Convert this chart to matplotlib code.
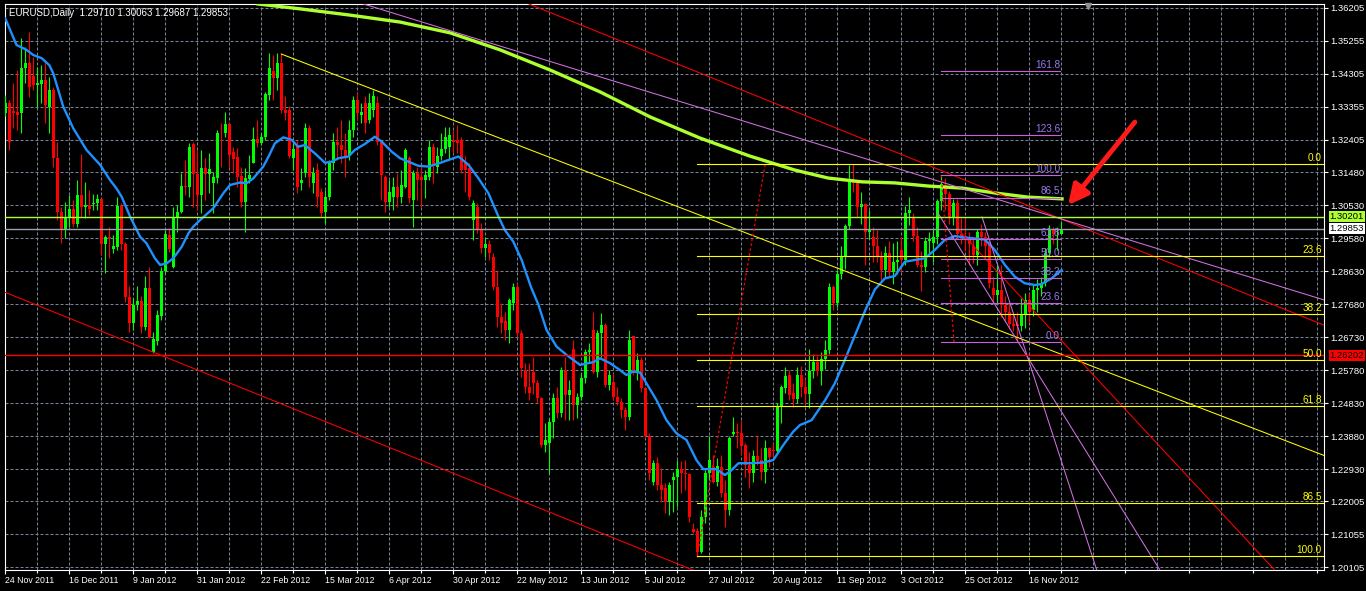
import numpy as np
import matplotlib
matplotlib.use("Agg")
import matplotlib.pyplot as plt
import matplotlib.font_manager as fm
from matplotlib.transforms import blended_transform_factory as blend

_names = {f.name for f in fm.fontManager.ttflist}
if "Liberation Sans Narrow" in _names:
    plt.rcParams["font.family"] = ["Liberation Sans Narrow", "DejaVu Sans"]
    FS_PRICE, FS_DATE, FS_FIB, FS_TITLE = 8, 7.2, 8, 8
else:
    plt.rcParams["font.family"] = ["Liberation Sans", "DejaVu Sans"]
    FS_PRICE, FS_DATE, FS_FIB, FS_TITLE = 6.8, 6.3, 7.2, 7

# ---- daily EURUSD candles (bar 0 = 24 Nov 2011) ----
OPEN = [1.3317, 1.3346, 1.3325, 1.3322, 1.3317, 1.3447, 1.3463, 1.3425, 1.3399, 1.3402,
        1.3413, 1.3336, 1.3384, 1.3188, 1.3034, 1.2981, 1.3015, 1.3041, 1.2999, 1.3082,
        1.3047, 1.3051, 1.3055, 1.3058, 1.3070, 1.2940, 1.2962, 1.2928, 1.2933, 1.3050,
        1.2941, 1.2788, 1.2715, 1.2765, 1.2778, 1.2703, 1.2814, 1.2631, 1.2663, 1.2734,
        1.2862, 1.2967, 1.2874, 1.3015, 1.3034, 1.3109, 1.3106, 1.3228, 1.3143, 1.3082,
        1.3160, 1.3143, 1.3116, 1.3130, 1.3262, 1.3260, 1.3287, 1.3207, 1.3191, 1.3137,
        1.3063, 1.3127, 1.3175, 1.3243, 1.3231, 1.3248, 1.3370, 1.3440, 1.3420, 1.3461,
        1.3327, 1.3327, 1.3188, 1.3226, 1.3116, 1.3145, 1.3274, 1.3116, 1.3154, 1.3092,
        1.3034, 1.3077, 1.3173, 1.3236, 1.3226, 1.3212, 1.3193, 1.3269, 1.3356, 1.3312,
        1.3346, 1.3298, 1.3327, 1.3346, 1.3236, 1.3135, 1.3063, 1.3077, 1.3106, 1.3077,
        1.3106, 1.3188, 1.3068, 1.3145, 1.3135, 1.3125, 1.3135, 1.3221, 1.3164, 1.3193,
        1.3216, 1.3221, 1.3241, 1.3241, 1.3241, 1.3173, 1.3159, 1.3010, 1.3049, 1.2982,
        1.2930, 1.2940, 1.2905, 1.2818, 1.2732, 1.2718, 1.2694, 1.2770, 1.2818, 1.2684,
        1.2578, 1.2530, 1.2574, 1.2540, 1.2497, 1.2363, 1.2367, 1.2430, 1.2497, 1.2454,
        1.2578, 1.2506, 1.2640, 1.2478, 1.2502, 1.2555, 1.2631, 1.2694, 1.2574, 1.2684,
        1.2708, 1.2535, 1.2545, 1.2502, 1.2487, 1.2463, 1.2444, 1.2675, 1.2569, 1.2607,
        1.2526, 1.2387, 1.2255, 1.2310, 1.2248, 1.2238, 1.2199, 1.2262, 1.2269, 1.2292,
        1.2281, 1.2279, 1.2120, 1.2116, 1.2055, 1.2156, 1.2281, 1.2298, 1.2257, 1.2300,
        1.2223, 1.2175, 1.2394, 1.2401, 1.2396, 1.2363, 1.2305, 1.2283, 1.2331, 1.2319,
        1.2286, 1.2353, 1.2348, 1.2346, 1.2473, 1.2526, 1.2564, 1.2511, 1.2495, 1.2564,
        1.2530, 1.2510, 1.2575, 1.2600, 1.2575, 1.2610, 1.2636, 1.2818, 1.2772, 1.2855,
        1.2905, 1.2994, 1.3125, 1.3116, 1.3049, 1.3055, 1.2975, 1.2960, 1.2935, 1.2905,
        1.2865, 1.2915, 1.2860, 1.2890, 1.2925, 1.2895, 1.3030, 1.3020, 1.2965, 1.2880,
        1.2875, 1.2950, 1.2945, 1.2960, 1.3065, 1.3110, 1.3085, 1.3015, 1.3060, 1.2970,
        1.2965, 1.2955, 1.2935, 1.2910, 1.2975, 1.2960, 1.2940, 1.2815, 1.2795, 1.2810,
        1.2765, 1.2745, 1.2710, 1.2710, 1.2705, 1.2740, 1.2780, 1.2750, 1.2810, 1.2815,
        1.2830, 1.2915, 1.2980, 1.2970, 1.29710]
HIGH = [1.3370, 1.3356, 1.3404, 1.3442, 1.3533, 1.3509, 1.3550, 1.3480, 1.3452, 1.3456,
        1.3466, 1.3423, 1.3394, 1.3236, 1.3048, 1.3063, 1.3082, 1.3068, 1.3125, 1.3199,
        1.3119, 1.3097, 1.3085, 1.3085, 1.3073, 1.2967, 1.2991, 1.2967, 1.3077, 1.3058,
        1.2948, 1.2819, 1.2785, 1.2819, 1.2790, 1.2848, 1.2876, 1.2689, 1.2751, 1.2876,
        1.2981, 1.2986, 1.3048, 1.3053, 1.3145, 1.3183, 1.3233, 1.3236, 1.3212, 1.3212,
        1.3188, 1.3202, 1.3149, 1.3269, 1.3289, 1.3322, 1.3293, 1.3221, 1.3217, 1.3164,
        1.3159, 1.3197, 1.3279, 1.3298, 1.3260, 1.3380, 1.3490, 1.3485, 1.3490, 1.3490,
        1.3366, 1.3337, 1.3231, 1.3241, 1.3160, 1.3289, 1.3284, 1.3164, 1.3173, 1.3101,
        1.3097, 1.3183, 1.3260, 1.3279, 1.3298, 1.3260, 1.3298, 1.3366, 1.3375, 1.3346,
        1.3366, 1.3375, 1.3385, 1.3366, 1.3241, 1.3140, 1.3125, 1.3135, 1.3145, 1.3154,
        1.3217, 1.3193, 1.3154, 1.3164, 1.3164, 1.3154, 1.3241, 1.3231, 1.3221, 1.3260,
        1.3279, 1.3279, 1.3269, 1.3284, 1.3250, 1.3193, 1.3173, 1.3068, 1.3058, 1.3001,
        1.2962, 1.2953, 1.2914, 1.2866, 1.2770, 1.2746, 1.2785, 1.2828, 1.2828, 1.2694,
        1.2598, 1.2598, 1.2617, 1.2550, 1.2502, 1.2425, 1.2440, 1.2511, 1.2530, 1.2588,
        1.2617, 1.2550, 1.2665, 1.2511, 1.2569, 1.2640, 1.2655, 1.2746, 1.2694, 1.2742,
        1.2713, 1.2578, 1.2569, 1.2530, 1.2497, 1.2473, 1.2694, 1.2679, 1.2626, 1.2617,
        1.2530, 1.2396, 1.2319, 1.2329, 1.2295, 1.2252, 1.2257, 1.2286, 1.2319, 1.2315,
        1.2319, 1.2281, 1.2137, 1.2123, 1.2175, 1.2291, 1.2387, 1.2334, 1.2325, 1.2334,
        1.2262, 1.2387, 1.2444, 1.2425, 1.2434, 1.2367, 1.2341, 1.2348, 1.2387, 1.2353,
        1.2377, 1.2358, 1.2367, 1.2482, 1.2535, 1.2586, 1.2578, 1.2540, 1.2588, 1.2590,
        1.2555, 1.2640, 1.2625, 1.2620, 1.2630, 1.2665, 1.2830, 1.2822, 1.2866, 1.2935,
        1.3000, 1.3168, 1.3172, 1.3125, 1.3090, 1.3060, 1.3040, 1.2990, 1.2980, 1.2920,
        1.2935, 1.2950, 1.2945, 1.2950, 1.2960, 1.3050, 1.3075, 1.3030, 1.2990, 1.2920,
        1.2960, 1.2975, 1.2985, 1.3070, 1.3140, 1.3130, 1.3095, 1.3070, 1.3070, 1.3015,
        1.3015, 1.2975, 1.2960, 1.2985, 1.3000, 1.2975, 1.2950, 1.2845, 1.2880, 1.2880,
        1.2790, 1.2770, 1.2740, 1.2745, 1.2785, 1.2800, 1.2800, 1.2825, 1.2840, 1.2845,
        1.2930, 1.2995, 1.2990, 1.2990, 1.30063]
LOW = [1.3310, 1.3212, 1.3274, 1.3269, 1.3260, 1.3404, 1.3365, 1.3384, 1.3336, 1.3346,
       1.3289, 1.3260, 1.3164, 1.3010, 1.2945, 1.2957, 1.2991, 1.2991, 1.2991, 1.3020,
       1.3015, 1.3025, 1.3039, 1.3039, 1.2909, 1.2857, 1.2900, 1.2914, 1.2924, 1.2924,
       1.2775, 1.2689, 1.2694, 1.2751, 1.2684, 1.2694, 1.2670, 1.2626, 1.2650, 1.2722,
       1.2857, 1.2919, 1.2871, 1.2977, 1.3030, 1.3082, 1.3077, 1.3048, 1.3039, 1.3030,
       1.3068, 1.3087, 1.3030, 1.3116, 1.3164, 1.3250, 1.3159, 1.3145, 1.3106, 1.3048,
       1.2975, 1.3116, 1.3173, 1.3221, 1.3225, 1.3241, 1.3356, 1.3356, 1.3385, 1.3317,
       1.3298, 1.3188, 1.3154, 1.3087, 1.3097, 1.3135, 1.3106, 1.3087, 1.3049, 1.3020,
       1.3001, 1.3068, 1.3154, 1.3183, 1.3173, 1.3135, 1.3183, 1.3250, 1.3298, 1.3289,
       1.3260, 1.3289, 1.3308, 1.3226, 1.3068, 1.3034, 1.3049, 1.3039, 1.3049, 1.3058,
       1.3101, 1.3058, 1.2991, 1.3068, 1.3049, 1.3073, 1.3125, 1.3116, 1.3145, 1.3183,
       1.3202, 1.3183, 1.3202, 1.3202, 1.3145, 1.3092, 1.3068, 1.2953, 1.2972, 1.2914,
       1.2905, 1.2895, 1.2809, 1.2703, 1.2684, 1.2665, 1.2655, 1.2751, 1.2674, 1.2559,
       1.2511, 1.2492, 1.2510, 1.2482, 1.2358, 1.2343, 1.2281, 1.2382, 1.2440, 1.2444,
       1.2434, 1.2434, 1.2434, 1.2440, 1.2492, 1.2540, 1.2598, 1.2569, 1.2559, 1.2617,
       1.2530, 1.2521, 1.2492, 1.2478, 1.2440, 1.2406, 1.2434, 1.2564, 1.2550, 1.2516,
       1.2383, 1.2262, 1.2248, 1.2233, 1.2199, 1.2166, 1.2161, 1.2171, 1.2185, 1.2223,
       1.2233, 1.2142, 1.2108, 1.2041, 1.2051, 1.2137, 1.2262, 1.2252, 1.2245, 1.2214,
       1.2127, 1.2161, 1.2387, 1.2353, 1.2334, 1.2271, 1.2238, 1.2257, 1.2305, 1.2262,
       1.2252, 1.2300, 1.2320, 1.2339, 1.2425, 1.2511, 1.2492, 1.2473, 1.2482, 1.2500,
       1.2480, 1.2470, 1.2555, 1.2560, 1.2535, 1.2580, 1.2625, 1.2750, 1.2760, 1.2840,
       1.2870, 1.2985, 1.3090, 1.3020, 1.3000, 1.2880, 1.2955, 1.2890, 1.2890, 1.2835,
       1.2845, 1.2850, 1.2825, 1.2855, 1.2860, 1.2880, 1.2995, 1.2950, 1.2875, 1.2805,
       1.2860, 1.2915, 1.2890, 1.2940, 1.3040, 1.3040, 1.3000, 1.2995, 1.2955, 1.2940,
       1.2920, 1.2880, 1.2885, 1.2880, 1.2935, 1.2900, 1.2815, 1.2770, 1.2770, 1.2730,
       1.2720, 1.2695, 1.2690, 1.2661, 1.2690, 1.2700, 1.2715, 1.2735, 1.2745, 1.2790,
       1.2820, 1.2905, 1.2940, 1.2925, 1.29687]
CLOSE = [1.3346, 1.3236, 1.3319, 1.3313, 1.3447, 1.3463, 1.3394, 1.3399, 1.3404, 1.3413,
         1.3341, 1.3384, 1.3188, 1.3034, 1.2983, 1.3015, 1.3041, 1.2999, 1.3082, 1.3047,
         1.3053, 1.3041, 1.3060, 1.3070, 1.2940, 1.2960, 1.2957, 1.2935, 1.3050, 1.2941,
         1.2788, 1.2715, 1.2765, 1.2778, 1.2703, 1.2814, 1.2674, 1.2667, 1.2737, 1.2862,
         1.2969, 1.2926, 1.3015, 1.3034, 1.3108, 1.3106, 1.3221, 1.3143, 1.3082, 1.3160,
         1.3142, 1.3156, 1.3133, 1.3260, 1.3260, 1.3287, 1.3197, 1.3185, 1.3133, 1.3063,
         1.3130, 1.3140, 1.3243, 1.3231, 1.3248, 1.3373, 1.3447, 1.3420, 1.3461, 1.3327,
         1.3317, 1.3193, 1.3216, 1.3106, 1.3125, 1.3274, 1.3135, 1.3145, 1.3077, 1.3029,
         1.3077, 1.3173, 1.3236, 1.3226, 1.3212, 1.3193, 1.3269, 1.3356, 1.3317, 1.3322,
         1.3289, 1.3346, 1.3366, 1.3236, 1.3140, 1.3063, 1.3092, 1.3106, 1.3077, 1.3111,
         1.3212, 1.3073, 1.3145, 1.3125, 1.3125, 1.3140, 1.3221, 1.3168, 1.3193, 1.3216,
         1.3250, 1.3255, 1.3236, 1.3231, 1.3154, 1.3154, 1.3077, 1.3058, 1.2982, 1.2930,
         1.2940, 1.2914, 1.2818, 1.2732, 1.2713, 1.2694, 1.2780, 1.2818, 1.2684, 1.2583,
         1.2530, 1.2512, 1.2540, 1.2497, 1.2363, 1.2377, 1.2430, 1.2497, 1.2454, 1.2578,
         1.2506, 1.2520, 1.2478, 1.2502, 1.2555, 1.2631, 1.2636, 1.2574, 1.2684, 1.2708,
         1.2535, 1.2564, 1.2502, 1.2487, 1.2463, 1.2444, 1.2665, 1.2569, 1.2607, 1.2526,
         1.2387, 1.2283, 1.2310, 1.2248, 1.2233, 1.2199, 1.2247, 1.2269, 1.2292, 1.2281,
         1.2279, 1.2154, 1.2113, 1.2055, 1.2156, 1.2281, 1.2319, 1.2257, 1.2302, 1.2223,
         1.2175, 1.2384, 1.2401, 1.2396, 1.2361, 1.2305, 1.2283, 1.2331, 1.2315, 1.2286,
         1.2353, 1.2329, 1.2346, 1.2473, 1.2528, 1.2561, 1.2506, 1.2495, 1.2564, 1.2530,
         1.2510, 1.2575, 1.2600, 1.2575, 1.2610, 1.2636, 1.2818, 1.2772, 1.2855, 1.2905,
         1.2994, 1.3125, 1.3116, 1.3049, 1.3055, 1.2975, 1.2985, 1.2935, 1.2905, 1.2865,
         1.2915, 1.2860, 1.2890, 1.2895, 1.2895, 1.3030, 1.3040, 1.2965, 1.2880, 1.2875,
         1.2950, 1.2955, 1.2960, 1.3065, 1.3115, 1.3085, 1.3020, 1.3060, 1.2970, 1.2965,
         1.2955, 1.2940, 1.2910, 1.2975, 1.2960, 1.2935, 1.2830, 1.2795, 1.2810, 1.2765,
         1.2745, 1.2710, 1.2705, 1.2705, 1.2740, 1.2780, 1.2745, 1.2810, 1.2815, 1.2830,
         1.2915, 1.2980, 1.2970, 1.2971, 1.29853]

# moving averages sampled off the chart (bar position, price)
MA_FAST_BAR = [0, 2.8, 5.3, 7, 9.1, 11, 12, 14.5, 17, 20.3, 23.7, 26.2, 27.8, 29.1, 31.2, 33.7,
               35.3, 37.4, 38.7, 40.3, 42, 44.1, 45.8, 47, 48.7, 52, 54.5, 56.2, 58.7, 60.3, 62,
               64.5, 66, 67.4, 69.5, 71.6, 73.2, 74.9, 77.4, 79.9, 81.6, 83.3, 85.8, 87.4, 89.9,
               92.4, 94.1, 96.6, 98.7, 100.8, 103.3, 105.8, 108.3, 110.8, 113.3, 115.8, 118.3,
               120.8, 123.3, 124.9, 127, 129.1, 131.4, 133.3, 135.3, 137.8, 140.3, 143.7, 147,
               148.7, 151.2, 153.7, 155.3, 157, 158.7, 160.3, 162.8, 165.3, 167.8, 170.3, 172.8,
               174.5, 177.8, 179.9, 181.2, 183.3, 186.2, 189.5, 192, 194.5, 197, 198.7, 201.6,
               205, 207.4, 210, 212.5, 215, 217.4, 219.9, 222.4, 224.9, 227.4, 229.9, 232.4,
               234.9, 237.4, 239.9, 242.4, 244.9, 247.4, 249.9, 252.4, 254.9, 257.4, 259.1,
               261.6, 264.1]
MA_FAST = [1.3590, 1.3514, 1.3500, 1.3485, 1.3476, 1.3456, 1.3432, 1.3336, 1.3274, 1.3212,
           1.3169, 1.3125, 1.3101, 1.3077, 1.3020, 1.2962, 1.2943, 1.2900, 1.2881, 1.2885,
           1.2900, 1.2933, 1.2972, 1.2991, 1.3010, 1.3044, 1.3087, 1.3111, 1.3118, 1.3116,
           1.3130, 1.3164, 1.3197, 1.3231, 1.3248, 1.3241, 1.3221, 1.3226, 1.3202, 1.3175,
           1.3178, 1.3188, 1.3193, 1.3212, 1.3229, 1.3250, 1.3236, 1.3207, 1.3188, 1.3178,
           1.3166, 1.3164, 1.3173, 1.3183, 1.3193, 1.3169, 1.3130, 1.3087, 1.3020, 1.2981,
           1.2948, 1.2895, 1.2818, 1.2766, 1.2694, 1.2646, 1.2622, 1.2593, 1.2601, 1.2612,
           1.2598, 1.2578, 1.2564, 1.2574, 1.2571, 1.2540, 1.2492, 1.2434, 1.2396, 1.2377,
           1.2319, 1.2293, 1.2293, 1.2276, 1.2286, 1.2310, 1.2310, 1.2312, 1.2319, 1.2362,
           1.2401, 1.2420, 1.2434, 1.2492, 1.2540, 1.2610, 1.2680, 1.2750, 1.2810, 1.2842,
           1.2849, 1.2890, 1.2895, 1.2900, 1.2924, 1.2953, 1.2964, 1.2960, 1.2957, 1.2954,
           1.2924, 1.2881, 1.2847, 1.2828, 1.2823, 1.2826, 1.2842, 1.2866]
MA_SLOW_BAR = [63.2, 73.7, 86.2, 98.7, 111.2, 123.7, 136.2, 148.7, 161.2, 173.7, 186.2, 197.4,
               205.7, 214.2, 222.4, 230.7, 239.2, 247.4, 255.7, 264.2]
MA_SLOW = [1.3632, 1.3618, 1.3600, 1.3580, 1.3549, 1.3500, 1.3442, 1.3379, 1.3307, 1.3246,
           1.3194, 1.3154, 1.3131, 1.3120, 1.3117, 1.3108, 1.3102, 1.3088, 1.3076, 1.3071]

PRICE_TICKS = [1.36205, 1.35255, 1.34305, 1.33355, 1.32405, 1.31480, 1.30530, 1.29580, 1.28630,
               1.27680, 1.26730, 1.25780, 1.24830, 1.23880, 1.22930, 1.22005, 1.21055, 1.20105]
DATE_BARS = list(range(0, 257, 16))
DATE_LABELS = ["24 Nov 2011", "16 Dec 2011", "9 Jan 2012", "31 Jan 2012", "22 Feb 2012",
               "15 Mar 2012", "6 Apr 2012", "30 Apr 2012", "22 May 2012", "13 Jun 2012",
               "5 Jul 2012", "27 Jul 2012", "20 Aug 2012", "11 Sep 2012", "3 Oct 2012",
               "25 Oct 2012", "16 Nov 2012"]

# drawn objects: (bar0, price0, bar1, price1)
YELLOW_TL = (69, 1.3488, 330, 1.2331)
RED_CH_LOW = (-5, 1.2825, 200, 1.1872)
RED_CH_UP = (100, 1.3776, 330, 1.2706)
VIOLET_TL = (80, 1.3666, 330, 1.2779)
VIOLET_A = (233.2, 1.3030, 288.7, 1.2002)
VIOLET_B = (244.2, 1.3019, 272.9, 1.2002)
RED_THIN = (237.9, 1.2987, 317.4, 1.2002)
FIB_BIG = (173, 1.2042, 190, 1.3172)      # low anchor, high anchor
FIB_BIG_LEVELS = [0.0, 23.6, 38.2, 50.0, 61.8, 86.5, 100.0]
FIB_SMALL = (234, 1.3140, 237.2, 1.2658, 263.7)
FIB_SMALL_LEVELS = [0.0, 23.6, 38.2, 50.0, 61.8, 86.5, 100.0, 123.6, 161.8]
SUPPORT, RESIST, BID = 1.26202, 1.30201, 1.29853

W, H = 1366, 591
fig = plt.figure(figsize=(W / 100, H / 100), dpi=100, facecolor="black")
L, R, T, B = 4.5, 1324, 4, 570
ax = fig.add_axes([L / W, 1 - B / H, (R - L) / W, (B - T) / H], facecolor="black")
ax.set_xlim(-0.2, 329.7)
ax.set_ylim(1.20026, 1.36320)

GRID = "#76849a"
dash = (0, (2.9, 1.9))
for p in PRICE_TICKS:
    ax.axhline(p, color=GRID, lw=0.75, ls=dash, zorder=0)
for b in range(8, 330, 8):
    ax.axvline(b, color=GRID, lw=0.75, ls=dash, zorder=0)

o, h, l, c = map(np.array, (OPEN, HIGH, LOW, CLOSE))
xb = np.arange(len(c))
col = np.where(c >= o, "#00ff00", "#ff0000")
ax.vlines(xb, l, h, colors=col, lw=0.8, zorder=3)
ax.bar(xb, np.maximum(np.abs(c - o), 0.00012), bottom=np.minimum(o, c), width=0.75,
       color=col, lw=0, zorder=3)

ax.plot(MA_FAST_BAR, MA_FAST, color="#1e90ff", lw=1.7, zorder=4)
ax.plot(MA_SLOW_BAR, MA_SLOW, color="#adff2f", lw=2.4, zorder=4)

def seg(s, color, lw=0.75, ls="-", z=5):
    ax.plot([s[0], s[2]], [s[1], s[3]], color=color, lw=lw, ls=ls, zorder=z)

seg(YELLOW_TL, "#ffff00")
seg(RED_CH_LOW, "#ff0000")
seg(RED_CH_UP, "#ff0000")
seg(VIOLET_TL, "#d070e0")
seg(VIOLET_A, "#d070e0")
seg(VIOLET_B, "#d070e0")
seg(RED_THIN, "#ff0000")

ax.axhline(RESIST, color="#adff2f", lw=1.0, zorder=5)
ax.axhline(BID, color="#9aa3ad", lw=1.0, zorder=5)
ax.axhline(SUPPORT, color="#ff0000", lw=1.0, zorder=5)

# big fibonacci (yellow)
b0, lo, b1, hi = FIB_BIG
ax.plot([b0, b1], [lo, hi], color="#ff0000", lw=0.9, ls=(0, (2, 2)), zorder=5)
for r in FIB_BIG_LEVELS:
    p = hi - r / 100 * (hi - lo)
    ax.plot([b0, 330], [p, p], color="#ffff00", lw=0.8, zorder=5)
    ax.text(329.2, p + 0.0003, f"{r:.1f}", color="#ffff00", fontsize=FS_FIB, ha="right", va="bottom", zorder=6)

# small fibonacci (violet)
b0, hi, b1, lo, bend = FIB_SMALL
ax.plot([b0, b1], [hi, lo], color="#ff0000", lw=0.9, ls=(0, (2, 2)), zorder=5)
for r in FIB_SMALL_LEVELS:
    p = lo + r / 100 * (hi - lo)
    ax.plot([b0, bend], [p, p], color="#c860dc", lw=0.8, zorder=5)
    ax.text(bend, p + 0.0003, f"{r:.1f}", color="#9a78f0", fontsize=FS_FIB, ha="right", va="bottom", zorder=6)

ax.annotate("", xy=(265.7, 1.3053), xytext=(282.4, 1.3292),
            arrowprops=dict(arrowstyle="-|>,head_length=1.2,head_width=0.6", color="#ff1a1a",
                            lw=3.5, shrinkA=0, shrinkB=0), zorder=7)
ax.plot([270.7], [1.3627], marker="v", color="#909090", ms=5, clip_on=False, zorder=7)

for s in ax.spines.values():
    s.set_color("white")
    s.set_linewidth(0.8)
ax.yaxis.tick_right()
ax.set_yticks(PRICE_TICKS)
ax.set_yticklabels([f"{p:.5f}" for p in PRICE_TICKS])
ax.set_xticks(DATE_BARS)
ax.set_xticklabels(DATE_LABELS)
ax.set_xticks(range(8, 330, 16), minor=True)
for lbl in ax.get_xticklabels():
    lbl.set_ha("left")
    lbl.set_fontsize(FS_DATE)
ax.tick_params(axis="both", colors="white", length=3, width=0.8, pad=1.5)
ax.tick_params(axis="y", labelsize=FS_PRICE)
ax.tick_params(axis="x", which="minor", colors="white", length=2, width=0.8)

tr = blend(ax.transAxes, ax.transData)
for p, fc, tc in [(RESIST, "#adff2f", "black"), (BID, "white", "black"), (SUPPORT, "#ff0000", "black")]:
    ax.text(1.0043, p, f"{p:.5f}", transform=tr, color=tc, fontsize=FS_PRICE, ha="left", va="center",
            bbox=dict(boxstyle="square,pad=0.12", fc=fc, ec="none"), zorder=8, clip_on=False)

fig.text(9 / W, 1 - 13 / H, "EURUSD,Daily  1.29710 1.30063 1.29687 1.29853", color="white",
         fontsize=FS_TITLE, ha="left", va="center")

fig.savefig("out.png", dpi=100, facecolor="black")
